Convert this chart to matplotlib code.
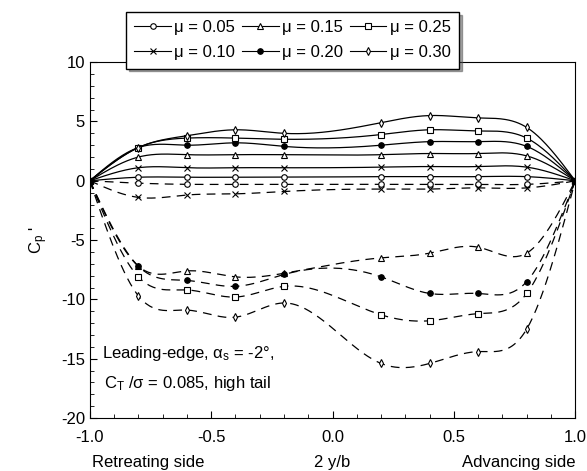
import numpy as np
import matplotlib
matplotlib.use("Agg")
import matplotlib.pyplot as plt
from matplotlib.ticker import MultipleLocator

plt.rcParams['font.family'] = ['Liberation Sans', 'DejaVu Sans']
plt.rcParams['mathtext.fontset'] = 'custom'
plt.rcParams['mathtext.rm'] = 'Liberation Sans'
plt.rcParams['mathtext.it'] = 'Liberation Sans'
plt.rcParams['axes.unicode_minus'] = False

# span stations 2y/b
span = [-1.0, -0.8, -0.6, -0.4, -0.2, 0.2, 0.4, 0.6, 0.8, 1.0]

mu_labels = ["0.05", "0.10", "0.15", "0.20", "0.25", "0.30"]

# solid curves (positive side)
upper_005 = [0, 0.3, 0.3, 0.3, 0.3, 0.35, 0.35, 0.35, 0.35, 0]
upper_010 = [0, 1.1, 1.1, 1.1, 1.1, 1.15, 1.2, 1.2, 1.15, 0]
upper_015 = [0, 2.0, 2.2, 2.2, 2.2, 2.2, 2.3, 2.3, 2.1, 0]
upper_020 = [0, 2.8, 3.0, 3.2, 2.9, 3.0, 3.3, 3.3, 2.9, 0]
upper_025 = [0, 2.8, 3.6, 3.6, 3.5, 3.9, 4.3, 4.2, 3.6, 0]
upper_030 = [0, 2.8, 3.8, 4.3, 4.0, 4.9, 5.5, 5.3, 4.5, 0]

# dashed curves (negative side)
lower_005 = [0, -0.2, -0.3, -0.3, -0.3, -0.3, -0.3, -0.3, -0.3, 0]
lower_010 = [0, -1.4, -1.2, -1.1, -0.9, -0.7, -0.7, -0.6, -0.6, 0]
lower_015 = [0, -7.2, -7.6, -8.1, -7.8, -6.5, -6.1, -5.6, -6.1, 0]
lower_020 = [0, -7.2, -8.4, -8.9, -7.9, -8.1, -9.5, -9.5, -8.5, 0]
lower_025 = [0, -8.1, -9.2, -9.8, -8.9, -11.3, -11.8, -11.2, -9.5, 0]
lower_030 = [0, -9.7, -10.9, -11.5, -10.3, -15.4, -15.4, -14.4, -12.5, 0]

uppers = [upper_005, upper_010, upper_015, upper_020, upper_025, upper_030]
lowers = [lower_005, lower_010, lower_015, lower_020, lower_025, lower_030]
markers = ['o', 'x', '^', 'o', 's', 'd']
faces = ['white', 'black', 'white', 'black', 'white', 'white']


def smooth(x, y, n=300):
    # natural cubic spline through the points, for drawing only
    x = np.asarray(x, float)
    y = np.asarray(y, float)
    k = len(x)
    h = np.diff(x)
    A = np.zeros((k, k))
    r = np.zeros(k)
    A[0, 0] = 1
    A[-1, -1] = 1
    for i in range(1, k - 1):
        A[i, i - 1] = h[i - 1]
        A[i, i] = 2 * (h[i - 1] + h[i])
        A[i, i + 1] = h[i]
        r[i] = 6 * ((y[i + 1] - y[i]) / h[i] - (y[i] - y[i - 1]) / h[i - 1])
    M = np.linalg.solve(A, r)
    xs = np.linspace(x[0], x[-1], n)
    idx = np.clip(np.searchsorted(x, xs) - 1, 0, k - 2)
    x0, x1 = x[idx], x[idx + 1]
    hh = x1 - x0
    a = (x1 - xs) / hh
    b = (xs - x0) / hh
    ys = (a * y[idx] + b * y[idx + 1]
          + ((a ** 3 - a) * M[idx] + (b ** 3 - b) * M[idx + 1]) * hh ** 2 / 6)
    return xs, ys


fig = plt.figure(figsize=(5.87, 4.71), dpi=100)
ax = fig.add_axes([0.153, 0.1125, 0.827, 0.7555])

handles = []
for lab, up, lo, m, fc in zip(mu_labels, uppers, lowers, markers, faces):
    ms = 4
    xs, ys = smooth(span, up)
    ax.plot(xs, ys, color='black', lw=0.9)
    ax.plot(span[1:-1], up[1:-1], ls='none', marker=m, mfc=fc, mec='black',
            ms=ms, mew=0.8)
    xs, ys = smooth(span, lo)
    ax.plot(xs, ys, color='black', lw=0.9, dashes=(7, 5))
    ax.plot(span[1:-1], lo[1:-1], ls='none', marker=m, mfc=fc, mec='black',
            ms=ms, mew=0.8)
    h, = ax.plot([], [], color='black', lw=0.8, marker=m, mfc=fc, mec='black',
                 ms=4, mew=0.8, label="μ = " + lab)
    handles.append(h)

ax.plot([-1, 1], [0, 0], ls='none', marker='s', color='black', ms=5)

ax.set_xlim(-1, 1)
ax.set_ylim(-20, 10)
ax.xaxis.set_major_locator(MultipleLocator(0.5))
ax.xaxis.set_minor_locator(MultipleLocator(0.1))
ax.yaxis.set_major_locator(MultipleLocator(5))
ax.yaxis.set_minor_locator(MultipleLocator(1))
ax.tick_params(which='both', direction='in', top=False, right=False,
               labelsize=12)
ax.tick_params(which='major', length=5)
ax.tick_params(which='minor', length=3)
ax.set_xticklabels([])
for v in [-1.0, -0.5, 0.0, 0.5, 1.0]:
    ax.text(v, -0.035, f"{v:.1f}", transform=ax.get_xaxis_transform(),
            ha='center', va='top', fontsize=12)

ax.text(0.0, -0.105, "2 y/b", transform=ax.get_xaxis_transform(),
        ha='center', va='top', fontsize=12)
ax.text(-0.99, -0.105, "Retreating side", transform=ax.get_xaxis_transform(),
        ha='left', va='top', fontsize=12)
ax.text(1.0, -0.105, "Advancing side", transform=ax.get_xaxis_transform(),
        ha='right', va='top', fontsize=12)

ax.set_ylabel("C$_\\mathregular{p}$ '", fontsize=12, labelpad=8)

ax.text(-0.95, -14.6, "Leading-edge, α$_\\mathregular{s}$ = -2°,",
        fontsize=12, ha='left', va='center')
ax.text(-0.94, -17.1, "C$_\\mathregular{T}$ /σ = 0.085, high tail",
        fontsize=12, ha='left', va='center')

leg = fig.legend(handles=handles, ncol=3, loc='upper left',
                 bbox_to_anchor=(126 / 587, 1 - 12 / 471), fontsize=12,
                 frameon=True, fancybox=False, shadow=True,
                 handlelength=2.2, handletextpad=0.2, columnspacing=0.4,
                 labelspacing=0.6, borderpad=0.5, borderaxespad=0)
leg.get_frame().set_edgecolor('black')
leg.get_frame().set_linewidth(1.0)
leg.set_zorder(10)

fig.savefig("out.png", dpi=100)
